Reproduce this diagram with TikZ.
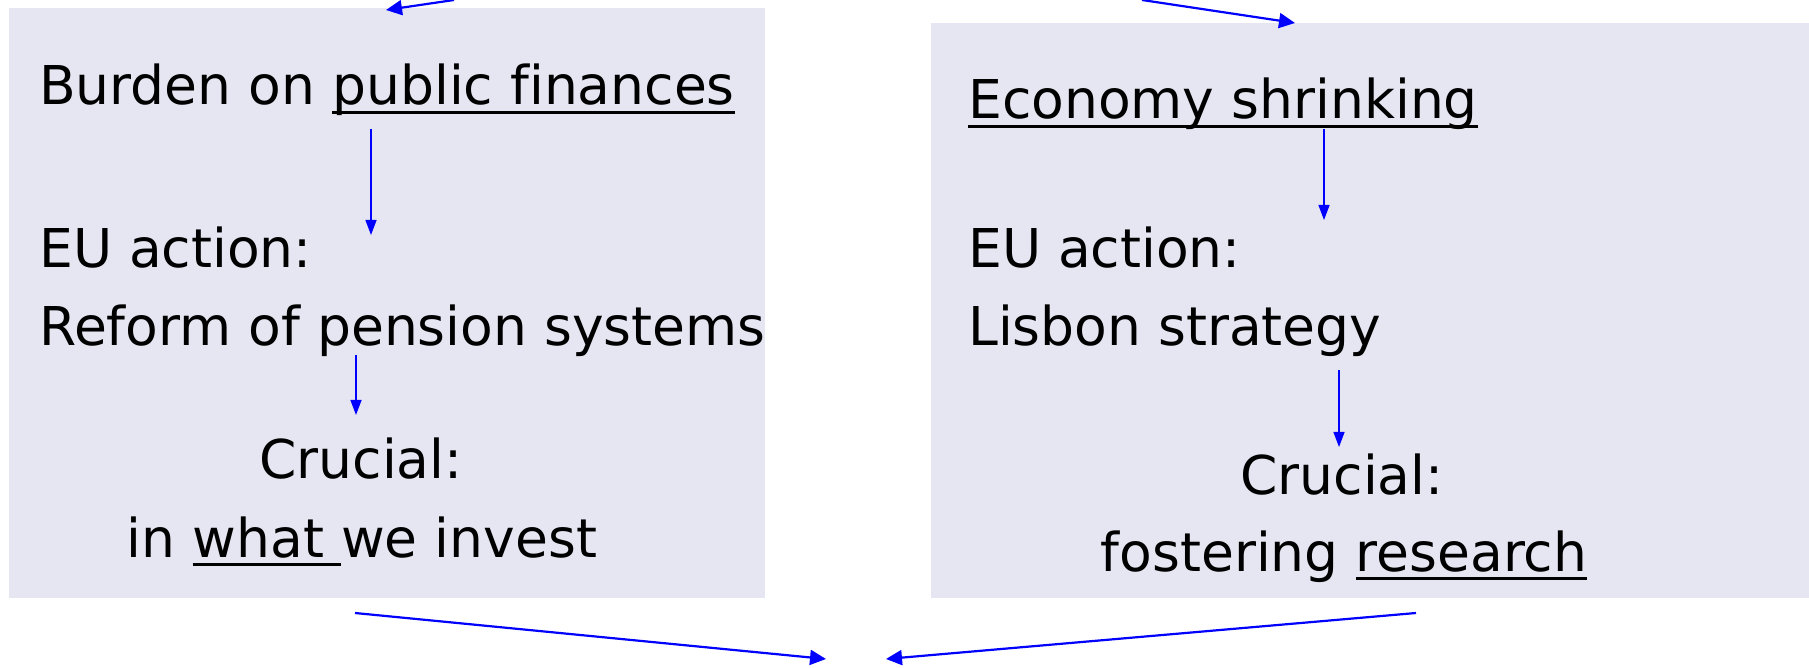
\documentclass[tikz,border=0pt]{standalone}
\usepackage{fontspec}
\setmainfont[Ligatures=NoCommon]{DejaVu Sans}
\usetikzlibrary{arrows.meta}
\definecolor{boxfill}{RGB}{230,230,242}
\definecolor{arrblue}{RGB}{0,0,255}
\newcommand\myul[1]{\setbox0\hbox{#1}\rlap{\rule[-9pt]{\wd0}{3pt}}\box0}
\tikzset{
  panel/.style={fill=boxfill, draw=none},
  txt/.style={inner sep=0pt, font=\fontsize{53.5}{64}\selectfont, text=black},
  varr/.style={draw=arrblue, line width=1.4pt, -{Triangle[length=15pt,width=11pt]}},
  darr/.style={draw=arrblue, line width=2.2pt, -{Triangle[length=16pt,width=15pt]}},
}
\begin{document}
\begin{tikzpicture}[x=1pt,y=1pt]
\useasboundingbox (0,0) rectangle (1809,667);
\clip (0,0) rectangle (1809,667);
% panels
\path[panel] (9,69) rectangle (765,659);
\path[panel] (931,69) rectangle (1809,644);
% left texts
\node[txt, anchor=base west] (lb) at (39,562) {Burden on \myul{public finances}};
\node[txt, anchor=base west] (la) at (39,399) {EU action:};
\node[txt, anchor=base west] (lr) at (39,321) {Reform of pension systems};
\node[txt, anchor=base] (lc) at (361,188) {Crucial:};
\node[txt, anchor=base] (lw) at (362,110) {in \myul{what }we invest};
% right texts
\node[txt, anchor=base west] (re) at (968,548) {\myul{Economy shrinking}};
\node[txt, anchor=base west] (ra) at (968,399) {EU action:};
\node[txt, anchor=base west] (rl) at (968,321) {Lisbon strategy};
\node[txt, anchor=base] (rc) at (1342,173) {Crucial:};
\node[txt, anchor=base] (rf) at (1344,96) {fostering \myul{research}};
% arrow end points
\coordinate (l1s) at (371,538); \coordinate (l1e) at (371,432);
\coordinate (l2s) at (356,312); \coordinate (l2e) at (356,252);
\coordinate (r1s) at (1324,538); \coordinate (r1e) at (1324,447);
\coordinate (r2s) at (1339,297); \coordinate (r2e) at (1339,220);
\coordinate (tls) at (454,667); \coordinate (tle) at (386,657);
\coordinate (trs) at (1142,667); \coordinate (tre) at (1295,644);
\coordinate (bls) at (355,54); \coordinate (ble) at (826,8);
\coordinate (brs) at (1416,54); \coordinate (bre) at (886,8);
% arrows
\draw[varr] (l1s) -- (l1e);
\draw[varr] (l2s) -- (l2e);
\draw[varr] (r1s) -- (r1e);
\draw[varr] (r2s) -- (r2e);
\draw[darr] (tls) -- (tle);
\draw[darr] (trs) -- (tre);
\draw[darr] (bls) -- (ble);
\draw[darr] (brs) -- (bre);
\end{tikzpicture}
\end{document}
